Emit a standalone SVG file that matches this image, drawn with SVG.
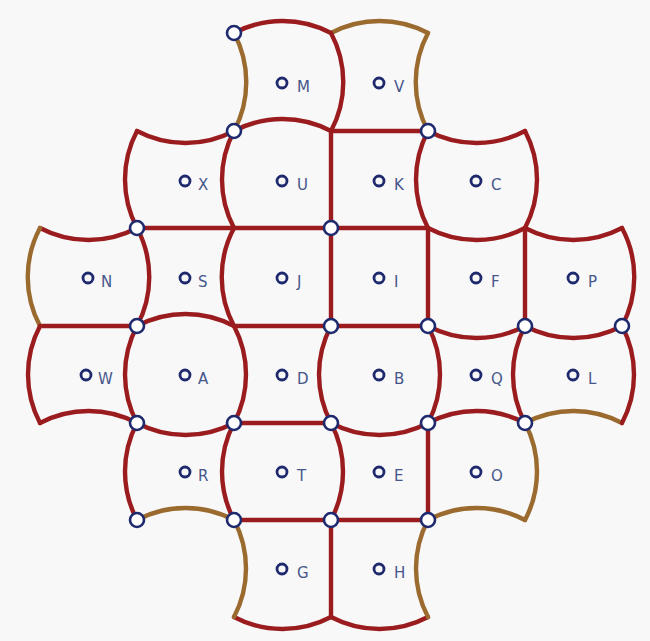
<svg xmlns="http://www.w3.org/2000/svg" width="650" height="641" viewBox="0 0 650 641">
<style>
.e{fill:none;stroke:#9b1c1e;stroke-width:4.4;stroke-linecap:round}
.b{fill:none;stroke:#9a6a2e;stroke-width:4.4;stroke-linecap:round}
.v{fill:#ffffff;stroke:#1f2a6e;stroke-width:2.6}
.lc{fill:none;stroke:#1f2a6e;stroke-width:2.8}
.lt{font-family:"DejaVu Sans","Verdana",sans-serif;font-size:15px;fill:#46568a}
</style>
<rect width="650" height="641" fill="#f8f8f8"/>
<g id="connectors">
<path class="e" d="M234 33 A104 104 0 0 1 331 33"/>
<path class="b" d="M331 33 A104 104 0 0 1 428 33"/>
<path class="e" d="M137 131 A104 104 0 0 0 234 131"/>
<path class="e" d="M234 131 A104 104 0 0 1 331 131"/>
<path class="e" d="M331 131 L428 131"/>
<path class="e" d="M428 131 A104 104 0 0 0 525 131"/>
<path class="e" d="M40 228 A104 104 0 0 0 137 228"/>
<path class="e" d="M137 228 L428 228"/>
<path class="e" d="M428 228 A104 104 0 0 0 525 228"/>
<path class="e" d="M525 228 A104 104 0 0 0 622 228"/>
<path class="e" d="M40 326 L137 326"/>
<path class="e" d="M137 326 A104 104 0 0 1 234 326"/>
<path class="e" d="M234 326 L428 326"/>
<path class="e" d="M428 326 A104 104 0 0 0 525 326"/>
<path class="e" d="M525 326 A104 104 0 0 0 622 326"/>
<path class="e" d="M40 423 A104 104 0 0 1 137 423"/>
<path class="e" d="M137 423 A104 104 0 0 0 234 423"/>
<path class="e" d="M234 423 L331 423"/>
<path class="e" d="M331 423 A104 104 0 0 0 428 423"/>
<path class="e" d="M428 423 A104 104 0 0 1 525 423"/>
<path class="b" d="M525 423 A104 104 0 0 1 622 423"/>
<path class="b" d="M137 520 A104 104 0 0 1 234 520"/>
<path class="e" d="M234 520 L428 520"/>
<path class="b" d="M428 520 A104 104 0 0 1 525 520"/>
<path class="e" d="M234 617 A104 104 0 0 0 331 617"/>
<path class="e" d="M331 617 A104 104 0 0 0 428 617"/>
<path class="b" d="M234 33 A104 104 0 0 1 234 131"/>
<path class="e" d="M331 33 A104 104 0 0 1 331 131"/>
<path class="b" d="M428 33 A104 104 0 0 0 428 131"/>
<path class="e" d="M137 131 A104 104 0 0 0 137 228"/>
<path class="e" d="M234 131 A104 104 0 0 0 234 228"/>
<path class="e" d="M331 131 L331 228"/>
<path class="e" d="M428 131 A104 104 0 0 0 428 228"/>
<path class="e" d="M525 131 A104 104 0 0 1 525 228"/>
<path class="b" d="M40 228 A104 104 0 0 0 40 326"/>
<path class="e" d="M137 228 A104 104 0 0 1 137 326"/>
<path class="e" d="M234 228 A104 104 0 0 0 234 326"/>
<path class="e" d="M331 228 L331 326"/>
<path class="e" d="M428 228 L428 326"/>
<path class="e" d="M525 228 L525 326"/>
<path class="e" d="M622 228 A104 104 0 0 1 622 326"/>
<path class="e" d="M40 326 A104 104 0 0 0 40 423"/>
<path class="e" d="M137 326 A104 104 0 0 0 137 423"/>
<path class="e" d="M234 326 A104 104 0 0 1 234 423"/>
<path class="e" d="M331 326 A104 104 0 0 0 331 423"/>
<path class="e" d="M428 326 A104 104 0 0 1 428 423"/>
<path class="e" d="M525 326 A104 104 0 0 0 525 423"/>
<path class="e" d="M622 326 A104 104 0 0 1 622 423"/>
<path class="e" d="M137 423 A104 104 0 0 0 137 520"/>
<path class="e" d="M234 423 A104 104 0 0 0 234 520"/>
<path class="e" d="M331 423 A104 104 0 0 1 331 520"/>
<path class="e" d="M428 423 L428 520"/>
<path class="b" d="M525 423 A104 104 0 0 1 525 520"/>
<path class="b" d="M234 520 A104 104 0 0 1 234 617"/>
<path class="e" d="M331 520 L331 617"/>
<path class="b" d="M428 520 A104 104 0 0 0 428 617"/>
</g>
<g id="vertices">
<circle class="v" cx="234" cy="33" r="7"/>
<circle class="v" cx="234" cy="131" r="7"/>
<circle class="v" cx="428" cy="131" r="7"/>
<circle class="v" cx="137" cy="228" r="7"/>
<circle class="v" cx="331" cy="228" r="7"/>
<circle class="v" cx="137" cy="326" r="7"/>
<circle class="v" cx="331" cy="326" r="7"/>
<circle class="v" cx="428" cy="326" r="7"/>
<circle class="v" cx="525" cy="326" r="7"/>
<circle class="v" cx="622" cy="326" r="7"/>
<circle class="v" cx="137" cy="423" r="7"/>
<circle class="v" cx="234" cy="423" r="7"/>
<circle class="v" cx="331" cy="423" r="7"/>
<circle class="v" cx="428" cy="423" r="7"/>
<circle class="v" cx="525" cy="423" r="7"/>
<circle class="v" cx="137" cy="520" r="7"/>
<circle class="v" cx="234" cy="520" r="7"/>
<circle class="v" cx="331" cy="520" r="7"/>
<circle class="v" cx="428" cy="520" r="7"/>
</g>
<g id="M"><circle class="lc" cx="282" cy="83" r="5"/><text class="lt" x="297" y="92">M</text></g>
<g id="V"><circle class="lc" cx="379" cy="83" r="5"/><text class="lt" x="394" y="92">V</text></g>
<g id="X"><circle class="lc" cx="185" cy="181" r="5"/><text class="lt" x="198" y="190">X</text></g>
<g id="U"><circle class="lc" cx="282" cy="181" r="5"/><text class="lt" x="297" y="190">U</text></g>
<g id="K"><circle class="lc" cx="379" cy="181" r="5"/><text class="lt" x="394" y="190">K</text></g>
<g id="C"><circle class="lc" cx="476" cy="181" r="5"/><text class="lt" x="491" y="190">C</text></g>
<g id="N"><circle class="lc" cx="88" cy="278" r="5"/><text class="lt" x="101" y="287">N</text></g>
<g id="S"><circle class="lc" cx="185" cy="278" r="5"/><text class="lt" x="198" y="287">S</text></g>
<g id="J"><circle class="lc" cx="282" cy="278" r="5"/><text class="lt" x="297" y="287">J</text></g>
<g id="I"><circle class="lc" cx="379" cy="278" r="5"/><text class="lt" x="394" y="287">I</text></g>
<g id="F"><circle class="lc" cx="476" cy="278" r="5"/><text class="lt" x="491" y="287">F</text></g>
<g id="P"><circle class="lc" cx="573" cy="278" r="5"/><text class="lt" x="588" y="287">P</text></g>
<g id="W"><circle class="lc" cx="86" cy="375" r="5"/><text class="lt" x="98" y="384">W</text></g>
<g id="A"><circle class="lc" cx="185" cy="375" r="5"/><text class="lt" x="198" y="384">A</text></g>
<g id="D"><circle class="lc" cx="282" cy="375" r="5"/><text class="lt" x="297" y="384">D</text></g>
<g id="B"><circle class="lc" cx="379" cy="375" r="5"/><text class="lt" x="394" y="384">B</text></g>
<g id="Q"><circle class="lc" cx="476" cy="375" r="5"/><text class="lt" x="491" y="384">Q</text></g>
<g id="L"><circle class="lc" cx="573" cy="375" r="5"/><text class="lt" x="588" y="384">L</text></g>
<g id="R"><circle class="lc" cx="185" cy="472" r="5"/><text class="lt" x="198" y="481">R</text></g>
<g id="T"><circle class="lc" cx="282" cy="472" r="5"/><text class="lt" x="297" y="481">T</text></g>
<g id="E"><circle class="lc" cx="379" cy="472" r="5"/><text class="lt" x="394" y="481">E</text></g>
<g id="O"><circle class="lc" cx="476" cy="472" r="5"/><text class="lt" x="491" y="481">O</text></g>
<g id="G"><circle class="lc" cx="282" cy="569" r="5"/><text class="lt" x="297" y="578">G</text></g>
<g id="H"><circle class="lc" cx="379" cy="569" r="5"/><text class="lt" x="394" y="578">H</text></g>
</svg>
